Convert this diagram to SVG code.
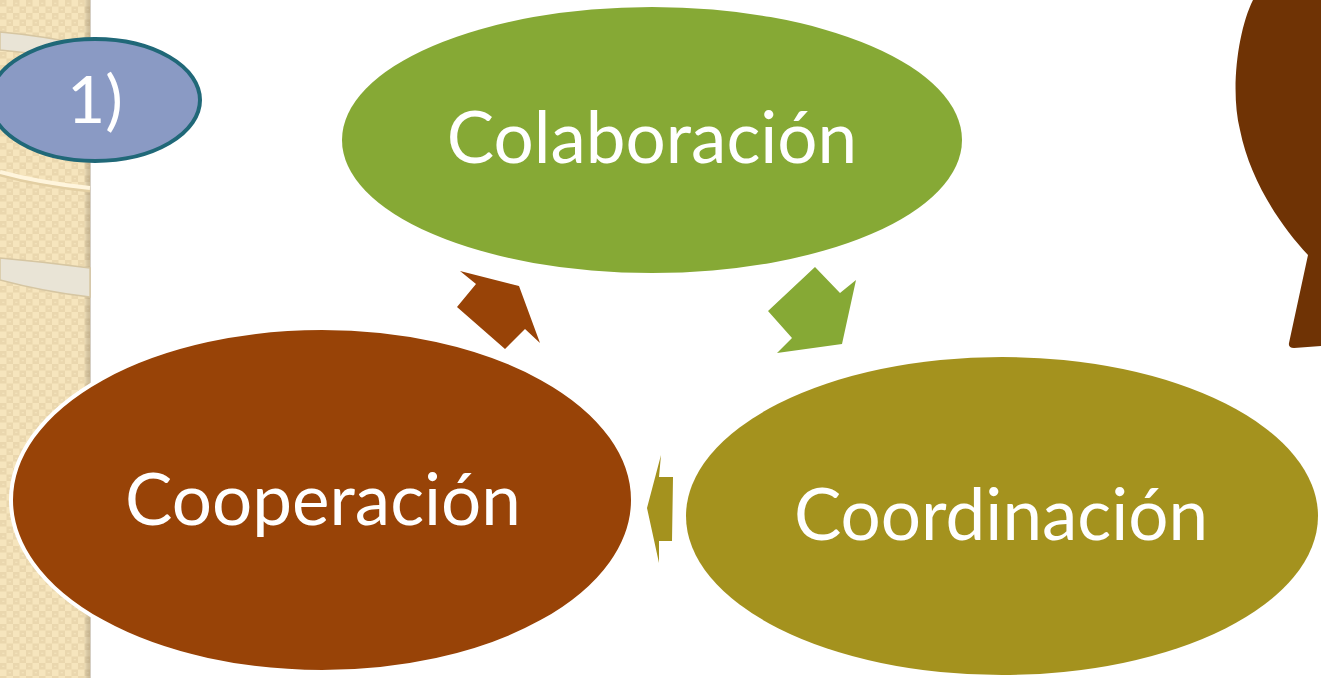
<svg xmlns="http://www.w3.org/2000/svg" width="1321" height="678" viewBox="0 0 1321 678">
<defs>
<pattern id="chk" width="13" height="13" patternUnits="userSpaceOnUse">
<rect width="13" height="13" fill="#f6e5bd"/>
<rect x="0" y="0" width="6.5" height="6.5" fill="#ead7ae"/>
<rect x="6.5" y="6.5" width="6.5" height="6.5" fill="#ead7ae"/>
<rect x="2.2" y="2.7" width="2.2" height="1.1" fill="#f6e5bd"/>
<rect x="8.7" y="9.2" width="2.2" height="1.1" fill="#f6e5bd"/>
</pattern>
<linearGradient id="edge" x1="0" x2="1" y1="0" y2="0">
<stop offset="0" stop-color="#000" stop-opacity="0"/>
<stop offset="1" stop-color="#8a7350" stop-opacity="0.35"/>
</linearGradient>
</defs>
<style>
.lbl{font-family:"Gill Sans MT","Lato","Liberation Sans",sans-serif;fill:#fff;text-anchor:middle}
.band{fill:#e9e4d6;stroke:#d6c6a2;stroke-width:1.5}
</style>
<rect width="1321" height="678" fill="#fff"/>
<g id="sidebar">
<rect x="0" y="0" width="90" height="678" fill="url(#chk)"/>
<rect x="84" y="0" width="7" height="678" fill="url(#edge)"/>
<path class="band" d="M0,32 Q45,36 90,46 L90,64 Q45,54 0,50 Z"/>
<path d="M0,175 Q40,186 90,191" fill="none" stroke="#e3cfa3" stroke-width="3"/>
<path d="M0,172 Q40,183 90,188" fill="none" stroke="#fff5dc" stroke-width="4"/>
<path class="band" d="M0,258 Q45,262 90,268 L90,297 Q45,292 0,280 Z"/>
</g>
<g id="tree">
<path d="M1253,0 C1238,30 1230,90 1240,130 C1250,180 1280,225 1308,255 L1289,343 Q1288,348 1294,348 L1321,346 L1321,0 Z" fill="#6f3305"/>
</g>
<g id="badge">
<ellipse cx="95" cy="100" rx="105" ry="61" fill="#8a9ac4" stroke="#206878" stroke-width="4"/>
<text class="lbl" x="95" y="123" font-size="66">1)</text>
</g>
<g id="connectors">
<polygon points="460,271 519,286 540,343 525,329 505,349 457,307 476,284" fill="#984307"/>
<polygon points="815,267 840,293 856,280 842,344 777,353 792,338 768,311" fill="#86a935"/>
<polygon points="661,455 659,477 673,477 672,541 659,541 659,563 647,508" fill="#a4921e"/>
</g>
<g id="colaboracion">
<ellipse cx="652" cy="140" rx="310" ry="133" fill="#86a935"/>
<text class="lbl" x="652" y="163" font-size="71">Colaboración</text>
</g>
<g id="cooperacion">
<ellipse cx="322" cy="500" rx="311" ry="172" fill="#984307" stroke="#fff" stroke-width="4"/>
<text class="lbl" x="323" y="525" font-size="71">Cooperación</text>
</g>
<g id="coordinacion">
<ellipse cx="1002" cy="516" rx="316" ry="159" fill="#a4921e"/>
<text class="lbl" x="1001" y="540" font-size="71">Coordinación</text>
</g>
</svg>
